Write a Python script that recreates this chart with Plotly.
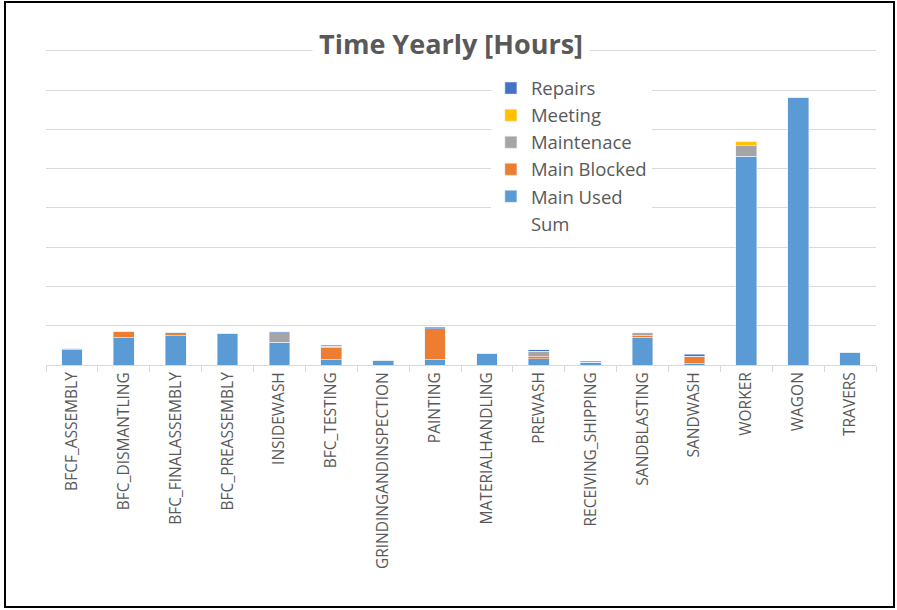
import plotly.graph_objects as go
import numpy as np

categories = ["BFCF_ASSEMBLY", "BFC_DISMANTLING", "BFC_FINALASSEMBLY", "BFC_PREASSEMBLY",
              "INSIDEWASH", "BFC_TESTING", "GRINDINGANDINSPECTION", "PAINTING",
              "MATERIALHANDLING", "PREWASH", "RECEIVING_SHIPPING", "SANDBLASTING",
              "SANDWASH", "WORKER", "WAGON", "TRAVERS"]

main_used    = [400, 710, 760, 790, 585, 150, 120, 150, 295, 160, 70, 710, 40, 5320, 6820, 330]
main_blocked = [30, 135, 60, 25, 0, 300, 0, 770, 0, 60, 0, 50, 185, 0, 0, 0]
maintenace   = [0, 0, 0, 0, 240, 25, 0, 0, 0, 135, 0, 35, 0, 280, 0, 0]
meeting      = [0, 0, 0, 0, 0, 0, 0, 0, 0, 0, 0, 0, 0, 85, 0, 0]
repairs      = [0, 0, 0, 0, 20, 25, 0, 45, 0, 35, 25, 30, 50, 0, 0, 0]

total = (np.array(main_used) + np.array(main_blocked) + np.array(maintenace)
         + np.array(meeting) + np.array(repairs)).tolist()

FONT = "Open Sans"
GRAY = "#595959"

fig = go.Figure()
fig.add_trace(go.Scatter(x=categories, y=total, name="Sum", mode="lines",
                         line=dict(color="rgba(0,0,0,0)", width=0), hoverinfo="skip"))
fig.add_trace(go.Bar(x=categories, y=main_used, name="Main Used", marker_color="#5B9BD5"))
fig.add_trace(go.Bar(x=categories, y=main_blocked, name="Main Blocked", marker_color="#ED7D31"))
fig.add_trace(go.Bar(x=categories, y=maintenace, name="Maintenace", marker_color="#A5A5A5"))
fig.add_trace(go.Bar(x=categories, y=meeting, name="Meeting", marker_color="#FFC000"))
fig.add_trace(go.Bar(x=categories, y=repairs, name="Repairs", marker_color="#4472C4"))

fig.update_layout(
    width=897, height=610,
    barmode="stack", bargap=0.6,
    plot_bgcolor="white", paper_bgcolor="white",
    margin=dict(l=46, r=21, t=47, b=245),
    font=dict(family=FONT, color=GRAY),
    legend=dict(x=0.536, y=0.929, xanchor="left", yanchor="top",
                traceorder="reversed", bgcolor="white",
                font=dict(family=FONT, size=18.5, color=GRAY),
                itemwidth=30),
    xaxis=dict(tickangle=-90, tickfont=dict(family=FONT, size=15.5, color=GRAY),
               showline=True, linecolor="#D9D9D9", linewidth=1,
               ticks="outside", tickson="boundaries", ticklen=6, tickcolor="#D9D9D9",
               showgrid=False),
    yaxis=dict(range=[0, 8100], dtick=1000, showticklabels=False,
               showgrid=True, gridcolor="#D9D9D9", gridwidth=1,
               zeroline=False, ticks=""),
    showlegend=True,
)

fig.add_annotation(text="<b>Time Yearly [Hours]</b>", xref="paper", yref="paper",
                   x=0.488, y=(365 - 43) / 318, xanchor="center", yanchor="middle",
                   showarrow=False, bgcolor="white", borderpad=6,
                   font=dict(family=FONT, size=27, color=GRAY))

fig.add_shape(type="rect", xref="paper", yref="paper",
              x0=-0.0494, x1=1.0217, y0=-242 / 318, y1=363 / 318,
              line=dict(color="black", width=2), fillcolor="rgba(0,0,0,0)", layer="above")

fig.write_html("out.html", config={"displayModeBar": False},
               post_script="document.body.style.margin='0';")
